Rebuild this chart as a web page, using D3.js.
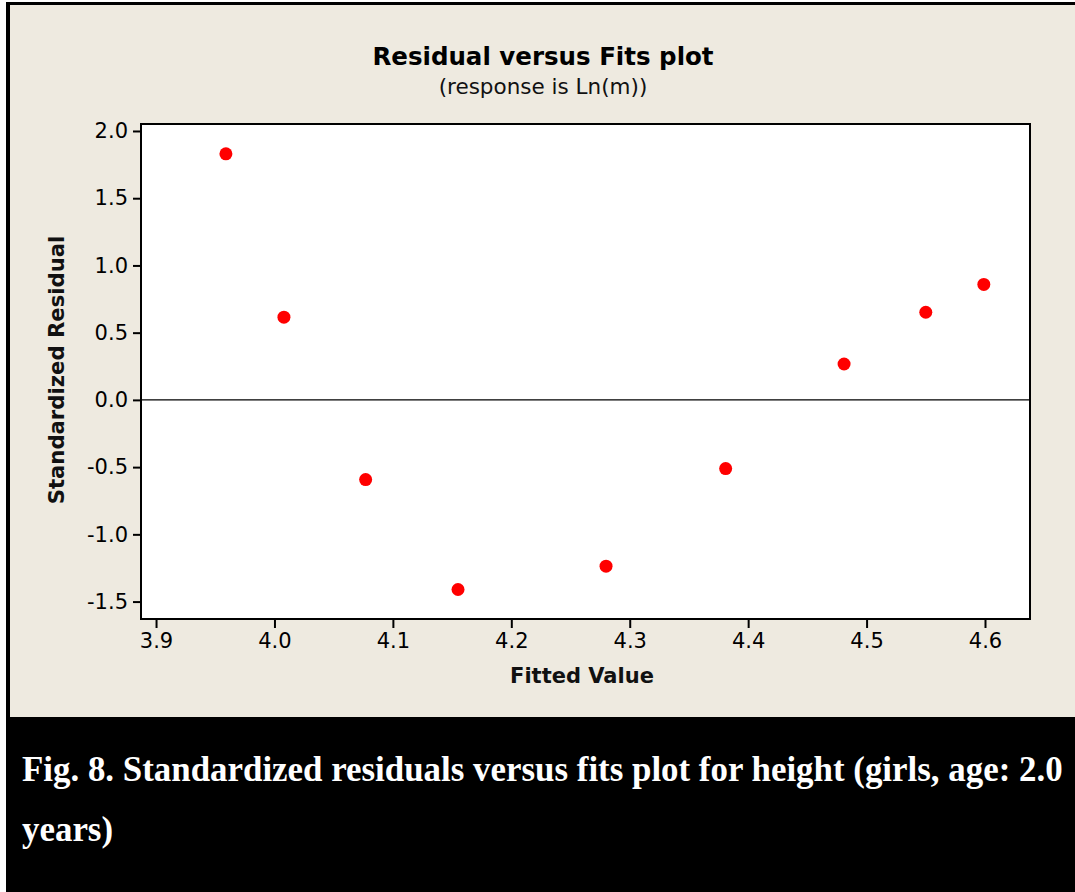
<!DOCTYPE html>
<html>
<head>
<meta charset="utf-8">
<script src="https://cdn.jsdelivr.net/npm/d3@7"></script>
<style>
  html, body { margin: 0; padding: 0; background: #ffffff; }
  svg { display: block; }
</style>
</head>
<body>
<script>
// Fitted values and standardized residuals (response is Ln(m))
const fittedValues = [3.959, 4.008, 4.077, 4.155, 4.280, 4.381, 4.481, 4.550, 4.599];
const stdResiduals = [1.83, 0.615, -0.593, -1.41, -1.237, -0.511, 0.267, 0.652, 0.859];
const xTicks = [3.9, 4.0, 4.1, 4.2, 4.3, 4.4, 4.5, 4.6];
const yTicks = [2.0, 1.5, 1.0, 0.5, 0.0, -0.5, -1.0, -1.5];

const W = 1075, H = 892;
const svg = d3.select("body").append("svg").attr("width", W).attr("height", H);

// dark frame and caption band
svg.append("rect").attr("x", 6).attr("y", 2).attr("width", W - 6).attr("height", H - 2).attr("fill", "#000");
// beige chart panel
svg.append("rect").attr("x", 10).attr("y", 5).attr("width", W - 10).attr("height", 712).attr("fill", "#EEEAE0");

const plot = { left: 141, top: 124, right: 1030, bottom: 619 };

const x = d3.scaleLinear().domain([3.8873, 4.638]).range([plot.left, plot.right]);
const y = d3.scaleLinear().domain([-1.6296, 2.0519]).range([plot.bottom, plot.top]);

// plot background
svg.append("rect")
  .attr("x", plot.left).attr("y", plot.top)
  .attr("width", plot.right - plot.left).attr("height", plot.bottom - plot.top)
  .attr("fill", "#fff").attr("stroke", "#000").attr("stroke-width", 2);

// one decimal, plain hyphen for negatives
const fmt = v => d3.format(".1f")(v).replace("\u2212", "-");
const tickFont = "'DejaVu Sans', Verdana, sans-serif";

const xAxis = svg.append("g")
  .attr("transform", `translate(0,${plot.bottom})`)
  .call(d3.axisBottom(x).tickValues(xTicks).tickFormat(fmt).tickSize(9).tickPadding(5));
const yAxis = svg.append("g")
  .attr("transform", `translate(${plot.left},0)`)
  .call(d3.axisLeft(y).tickValues(yTicks).tickFormat(fmt).tickSize(8).tickPadding(5));

[xAxis, yAxis].forEach(g => {
  g.select(".domain").remove();
  g.selectAll(".tick line").attr("stroke", "#000").attr("stroke-width", 2);
  g.selectAll(".tick text").attr("fill", "#000").style("font-family", tickFont).style("font-size", "21px");
});

// zero reference line
svg.append("line")
  .attr("x1", plot.left).attr("x2", plot.right)
  .attr("y1", y(0)).attr("y2", y(0))
  .attr("stroke", "#000").attr("stroke-width", 1.2);

// residual points
const pts = fittedValues.map((v, i) => ({ fit: v, res: stdResiduals[i] }));
svg.append("g").selectAll("circle").data(pts).join("circle")
  .attr("cx", d => x(d.fit)).attr("cy", d => y(d.res))
  .attr("r", 6.5).attr("fill", "#ff0000");

// titles
svg.append("text").attr("x", 543).attr("y", 65).attr("text-anchor", "middle")
  .style("font-family", tickFont).style("font-weight", "bold").style("font-size", "24.5px")
  .attr("fill", "#000").text("Residual versus Fits plot");
svg.append("text").attr("x", 543).attr("y", 94).attr("text-anchor", "middle")
  .style("font-family", tickFont).style("font-size", "21.5px")
  .attr("fill", "#111").text("(response is Ln(m))");

svg.append("text").attr("x", 582).attr("y", 683).attr("text-anchor", "middle")
  .style("font-family", tickFont).style("font-weight", "bold").style("font-size", "21px")
  .attr("fill", "#111").text("Fitted Value");
svg.append("text").attr("transform", "translate(64,370) rotate(-90)").attr("text-anchor", "middle")
  .style("font-family", tickFont).style("font-weight", "bold").style("font-size", "21.2px")
  .attr("fill", "#111").text("Standardized Residual");

// figure caption
const capFont = "'Liberation Serif', 'Times New Roman', serif";
svg.append("text").attr("x", 22).attr("y", 781)
  .style("font-family", capFont).style("font-weight", "bold").style("font-size", "34.9px")
  .attr("fill", "#fff").text("Fig. 8. Standardized residuals versus fits plot for height (girls, age: 2.0");
svg.append("text").attr("x", 22).attr("y", 841)
  .style("font-family", capFont).style("font-weight", "bold").style("font-size", "34.9px")
  .attr("fill", "#fff").text("years)");
</script>
</body>
</html>
